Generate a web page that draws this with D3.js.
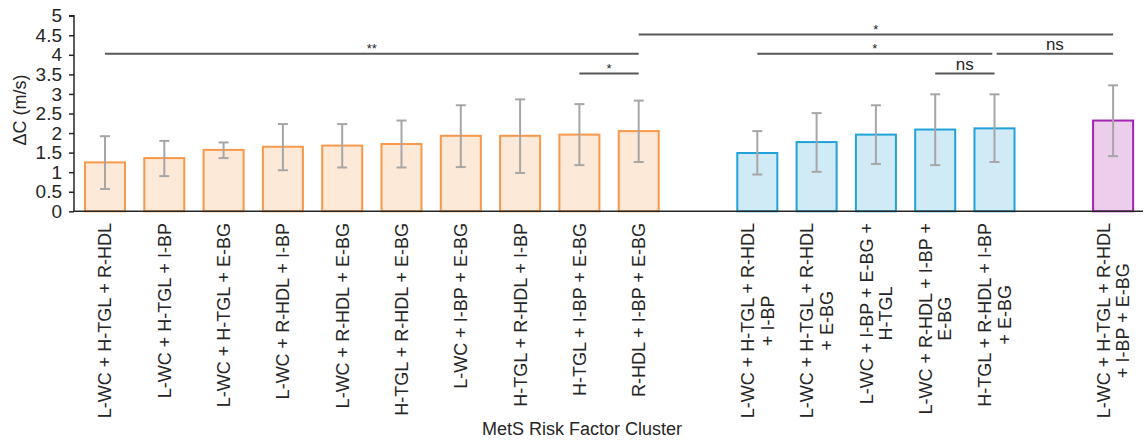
<!DOCTYPE html>
<html><head><meta charset="utf-8">
<script src="https://cdn.jsdelivr.net/npm/d3@7"></script>
<style>body{margin:0;background:#fff}svg{display:block}</style>
</head><body><svg id="c" width="1148" height="443"></svg>
<script>
// ---- data (slots 10 and 16 are empty gaps) ----
const categories = [
  "L-WC + H-TGL + R-HDL",
  "L-WC + H-TGL + I-BP",
  "L-WC + H-TGL + E-BG",
  "L-WC + R-HDL + I-BP",
  "L-WC + R-HDL + E-BG",
  "H-TGL + R-HDL + E-BG",
  "L-WC + I-BP + E-BG",
  "H-TGL + R-HDL + I-BP",
  "H-TGL + I-BP + E-BG",
  "R-HDL + I-BP + E-BG",
  "",
  "L-WC + H-TGL + R-HDL\n+ I-BP",
  "L-WC + H-TGL + R-HDL\n+ E-BG",
  "L-WC + I-BP + E-BG +\nH-TGL",
  "L-WC + R-HDL + I-BP +\nE-BG",
  "H-TGL + R-HDL + I-BP\n+ E-BG",
  "",
  "L-WC + H-TGL + R-HDL\n+ I-BP + E-BG"
];
const groups = ["three","three","three","three","three","three","three","three","three","three",null,
                "four","four","four","four","four",null,"five"];
const means = [1.25,1.36,1.57,1.65,1.68,1.72,1.93,1.93,1.96,2.05,null,1.49,1.77,1.96,2.09,2.12,null,2.32];
const errUpper = [1.92,1.80,1.76,2.23,2.23,2.32,2.71,2.86,2.74,2.83,null,2.05,2.51,2.71,2.99,2.99,null,3.22];
const errLower = [0.57,0.90,1.36,1.05,1.12,1.12,1.13,0.98,1.18,1.26,null,0.94,1.01,1.21,1.18,1.26,null,1.41];
const yTicks = [0,0.5,1,1.5,2,2.5,3,3.5,4,4.5,5];
const bracketFrom  = [0, 8, 9, 11, 15, 14];
const bracketTo    = [9, 9, 17, 15, 17, 15];
const bracketLevel = [4.03, 3.52, 4.52, 4.03, 4.03, 3.52];
const bracketLabel = ["**", "*", "*", "*", "ns", "ns"];
const yTitle = "ΔC (m/s)";
const xTitle = "MetS Risk Factor Cluster";

// ---- styles ----
const FONT = "'Liberation Sans', Arial, sans-serif";
const fills = {three:"#FDE9D8", four:"#D0EBF5", five:"#ECCDEB"};
const strokes = {three:"#F7984A", four:"#21A2D8", five:"#A423B2"};
const textColor = "#262626";

const svg = d3.select("#c");
svg.append("rect").attr("width",1148).attr("height",443).attr("fill","#fff");

const x = d3.scaleBand().domain(d3.range(categories.length))
  .range([75.35, 1142.75]).paddingInner(0.325).paddingOuter(0.1625);
const y = d3.scaleLinear().domain([0,5]).range([211.3, 15.7]);
const cx = i => x(i) + x.bandwidth()/2;

// bars
const idx = d3.range(categories.length).filter(i => means[i] != null);
svg.append("g").selectAll("rect").data(idx).join("rect")
  .attr("x", i => x(i)).attr("width", x.bandwidth())
  .attr("y", i => y(means[i])).attr("height", i => y(0) - y(means[i]))
  .attr("fill", i => fills[groups[i]]).attr("stroke", i => strokes[groups[i]])
  .attr("stroke-width", 2);

// error bars
const eg = svg.append("g").attr("stroke","#A6A6A6").attr("stroke-width",2).attr("fill","none");
idx.forEach(i => {
  eg.append("line").attr("x1",cx(i)).attr("x2",cx(i)).attr("y1",y(errUpper[i])).attr("y2",y(errLower[i]));
  eg.append("line").attr("x1",cx(i)-5).attr("x2",cx(i)+5).attr("y1",y(errUpper[i])).attr("y2",y(errUpper[i]));
  eg.append("line").attr("x1",cx(i)-5).attr("x2",cx(i)+5).attr("y1",y(errLower[i])).attr("y2",y(errLower[i]));
});

// axes
const ya = svg.append("g").attr("transform","translate(74,0)")
  .call(d3.axisLeft(y).tickValues(yTicks).tickSize(5).tickSizeOuter(0).tickPadding(7).tickFormat(d3.format("~g")));
ya.selectAll("path,line").attr("stroke","#262626").attr("stroke-width",1.5);
ya.selectAll("text").attr("font-family",FONT).attr("font-size",19).attr("fill",textColor);
ya.select(".domain").attr("d","M-5,15.7H0V211.3");

const xa = svg.append("g").attr("transform",`translate(0,${y(0)})`)
  .call(d3.axisBottom(x).tickValues([]).tickSizeOuter(0));
xa.select(".domain").attr("stroke","#262626").attr("stroke-width",1.5).attr("d","M73.5,0H1143");

// category labels (rotated, top aligned at y=223, lines centred)
idx.forEach(i => {
  const lines = categories[i].split("\n");
  const g = svg.append("g").attr("transform",`translate(${cx(i)},223) rotate(-90)`);
  const ts = lines.map((t,k) => g.append("text")
    .attr("font-family",FONT).attr("font-size",18).attr("fill",textColor)
    .attr("text-anchor","middle")
    .attr("y", (k - (lines.length-1)/2) * 19.5).attr("dy","0.36em")
    .text(t));
  const maxLen = d3.max(ts, t => t.node().getComputedTextLength());
  ts.forEach(t => t.attr("x", -maxLen/2));
});

// titles
svg.append("text").attr("transform","translate(20,110) rotate(-90)")
  .attr("text-anchor","middle").attr("dy","0.36em")
  .attr("font-family",FONT).attr("font-size",18).attr("fill",textColor).text(yTitle);
svg.append("text").attr("x",582).attr("y",435).attr("text-anchor","middle")
  .attr("font-family",FONT).attr("font-size",18).attr("fill",textColor).text(xTitle);

// significance brackets
const bg = svg.append("g");
bracketFrom.forEach((f,k) => {
  const t = bracketTo[k], lv = bracketLevel[k];
  let x1 = cx(f), x2 = cx(t);
  // trim where two brackets on the same level meet
  bracketFrom.forEach((f2,j) => { if (j!==k && bracketLevel[j]===lv) {
    if (bracketTo[j]===f) x1 += 2.2;
    if (f2===t) x2 -= 2.2;
  }});
  const yy = y(lv);
  bg.append("line").attr("x1",x1).attr("x2",x2).attr("y1",yy).attr("y2",yy)
    .attr("stroke","#595959").attr("stroke-width",2);
  const isNs = bracketLabel[k] === "ns";
  bg.append("text").attr("x",(x1+x2)/2).attr("y", isNs ? yy-4 : yy-0.5)
    .attr("text-anchor","middle").attr("font-family",FONT)
    .attr("font-size", isNs ? 17 : 13).attr("fill", textColor)
    .text(bracketLabel[k]);
});
</script>
</body></html>
